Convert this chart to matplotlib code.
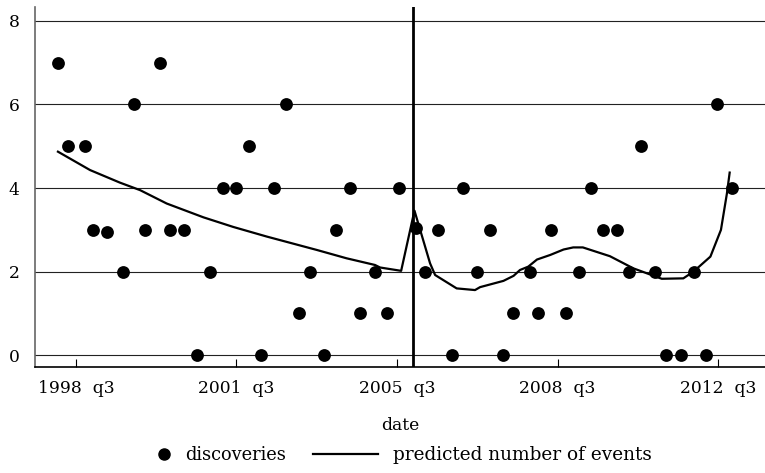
import matplotlib
matplotlib.use("Agg")
import matplotlib.pyplot as plt
from matplotlib.lines import Line2D

# discoveries (decimal year, count)
disc_x = [1998.11, 1998.33, 1998.71, 1998.87, 1999.19, 1999.52, 1999.76, 2000.00, 2000.33, 2000.56,
          2000.85, 2001.15, 2001.42, 2001.70, 2001.98, 2002.27, 2002.53, 2002.82, 2003.09, 2003.37,
          2003.61, 2003.91, 2004.18, 2004.47, 2004.70, 2005.01, 2005.29, 2005.54,
          2005.91, 2006.12, 2006.39, 2006.69, 2006.93, 2007.24, 2007.53, 2007.81, 2008.03, 2008.39,
          2008.58, 2008.86, 2009.19, 2009.47, 2009.73, 2010.00, 2010.30, 2010.55, 2010.82, 2011.13,
          2011.36, 2011.70, 2011.97, 2012.24, 2012.48, 2012.79]
disc_y = [7, 5, 5, 3, 2.95, 2, 6, 3, 7, 3,
          3, 0, 2, 4, 4, 5, 0, 4, 6, 1,
          2, 0, 3, 4, 1, 2, 1, 4,
          3.05, 2, 3, 0, 4, 2, 3, 0, 1, 2,
          1, 3, 1, 2, 4, 3, 3, 2, 5, 2,
          0, 0, 2, 0, 6, 4]

# predicted number of events
pred_x = [1998.11, 1998.81, 1999.46, 1999.90, 2000.48, 2001.28, 2001.93, 2002.66, 2003.75, 2004.40,
          2005.02, 2005.13, 2005.59, 2005.88, 2006.22, 2006.33, 2006.80, 2007.20, 2007.31, 2007.82,
          2008.04, 2008.18, 2008.36, 2008.55, 2008.84, 2009.13, 2009.34, 2009.55, 2010.14, 2010.65,
          2011.27, 2011.74, 2011.96, 2012.33, 2012.56, 2012.69, 2012.75]
pred_y = [4.87, 4.43, 4.13, 3.95, 3.63, 3.30, 3.07, 2.84, 2.52, 2.32,
          2.16, 2.10, 2.02, 3.46, 2.20, 1.92, 1.60, 1.56, 1.63, 1.78,
          1.90, 2.04, 2.12, 2.29, 2.40, 2.53, 2.58, 2.58, 2.37, 2.08,
          1.83, 1.84, 2.00, 2.36, 3.00, 3.87, 4.37]

change_point = 2005.85
xtick_pos = [1998.5, 2002.0, 2005.5, 2009.0, 2012.5]
xtick_labels = ["1998  q3", "2001  q3", "2005  q3", "2008  q3", "2012  q3"]
ytick_pos = [0, 2, 4, 6, 8]

plt.rcParams['font.family'] = ['DejaVu Serif']
fig = plt.figure(figsize=(7.65, 4.73), dpi=100)
ax = fig.add_axes([35/765, 1-367/473, 1-35/765, 360/473])

for y in ytick_pos:
    ax.axhline(y, color='#222222', lw=0.8, zorder=1)
ax.axvline(change_point, color='black', lw=2.0, zorder=3)
ax.plot(pred_x, pred_y, color='black', lw=1.6, zorder=3)
ax.scatter(disc_x, disc_y, s=85, color='black', zorder=4, linewidths=0)

ax.set_xlim(1997.61, 2013.52)
ax.set_ylim(-0.28, 8.33)
ax.set_xticks(xtick_pos)
ax.set_xticklabels(xtick_labels, fontsize=12.3)
ax.set_yticks(ytick_pos)
ax.set_yticklabels([str(v) for v in ytick_pos], fontsize=12.3)
ax.tick_params(axis='x', direction='in', length=6, width=0.8, pad=9)
ax.tick_params(axis='y', length=0, pad=11)
for s in ['top', 'right']:
    ax.spines[s].set_visible(False)
ax.spines['left'].set_color('#666666')
ax.spines['left'].set_linewidth(1.2)
ax.spines['bottom'].set_linewidth(1.2)
ax.set_xlabel("date", fontsize=12.3, labelpad=15)

h1 = Line2D([], [], marker='o', color='black', linestyle='none', markersize=8)
h2 = Line2D([], [], color='black', lw=1.6)
leg1 = fig.legend([h1], ["discoveries"], loc='center left',
                  bbox_to_anchor=(153/765, 1-455/473), frameon=False, fontsize=12.8,
                  handlelength=1.2, handletextpad=0.6, borderaxespad=0, borderpad=0)
leg2 = fig.legend([h2], ["predicted number of events"], loc='center left',
                  bbox_to_anchor=(313/765, 1-455/473), frameon=False, fontsize=13.3,
                  handlelength=3.5, handletextpad=0.85, borderaxespad=0, borderpad=0)

fig.savefig("out.png", dpi=100)
